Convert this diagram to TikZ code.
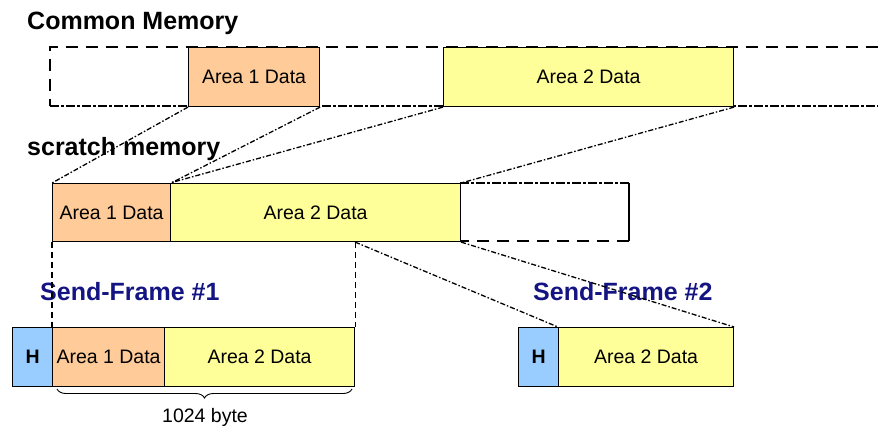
\documentclass[tikz,border=0pt]{standalone}
\usepackage{fontspec}
\setmainfont{Liberation Sans}
\usetikzlibrary{decorations.pathreplacing}
\definecolor{orangefill}{RGB}{255,204,153}
\definecolor{yellowfill}{RGB}{255,255,153}
\definecolor{bluefill}{RGB}{153,204,255}
\definecolor{navytext}{RGB}{20,20,130}
\begin{document}
\begin{tikzpicture}[x=1pt,y=-1pt,
  box/.style={draw=black, line width=1.1pt, inner sep=0pt, anchor=north west,
    font=\fontsize{19.5}{22}\selectfont},
  title/.style={anchor=base west, inner sep=0pt, font=\fontsize{25}{30}\selectfont\bfseries},
  frametitle/.style={title, text=navytext},
  longdash/.style={line width=1.2pt, dash pattern=on 12pt off 8pt},
  dashdotline/.style={line width=1.8pt, dash pattern=on 9pt off 2pt on 3pt off 2pt},
  linkline/.style={line width=1.3pt, dash pattern=on 5pt off 2pt on 1.5pt off 2pt},
  vdash/.style={line width=1.1pt, dash pattern=on 6pt off 4pt}]
\useasboundingbox (0,0) rectangle (880,429);

% titles
\node[title] (tcm) at (27,29) {Common Memory};
\node[title] (tsm) at (27,155) {scratch memory};
\node[frametitle] (tf1) at (40,300) {Send-Frame \#1};
\node[frametitle] (tf2) at (533,300) {Send-Frame \#2};

% common memory frame
\coordinate (cmtl) at (50,47);
\coordinate (cmbl) at (50,106);
\coordinate (cmtr) at (878,47);
\coordinate (cmbr) at (878,106);
\draw[longdash] (cmtr) -- (cmtl) -- (cmbl);
\draw[dashdotline] (cmbl) -- (cmbr);

% scratch memory free part
\coordinate (smtl) at (460,183);
\coordinate (smtr) at (629,183);
\coordinate (smbr) at (629,241);
\coordinate (smbl) at (460,241);
\draw[dashdotline] (smtl) -- (smtr);
\draw[line width=1.2pt] (smtr) -- (smbr);
\draw[longdash] (smbr) -- (smbl);

% common memory boxes
\node[box, fill=orangefill, minimum width=131pt, minimum height=59pt] (cmA1) at (188,47) {Area 1 Data};
\node[box, fill=yellowfill, minimum width=290pt, minimum height=59pt] (cmA2) at (443,47) {Area 2 Data};

% scratch boxes
\node[box, fill=orangefill, minimum width=118pt, minimum height=58pt] (scA1) at (52,183) {Area 1 Data};
\node[box, fill=yellowfill, minimum width=290pt, minimum height=58pt] (scA2) at (170,183) {Area 2 Data};

% send frame 1
\node[box, fill=bluefill, minimum width=40pt, minimum height=59pt, font=\fontsize{19.5}{22}\selectfont\bfseries] (f1H) at (12,327) {H};
\node[box, fill=orangefill, minimum width=112pt, minimum height=59pt] (f1A1) at (52,327) {Area 1 Data};
\node[box, fill=yellowfill, minimum width=190pt, minimum height=59pt] (f1A2) at (164,327) {Area 2 Data};

% send frame 2
\node[box, fill=bluefill, minimum width=40pt, minimum height=59pt, font=\fontsize{19.5}{22}\selectfont\bfseries] (f2H) at (518,327) {H};
\node[box, fill=yellowfill, minimum width=175pt, minimum height=59pt] (f2A2) at (558,327) {Area 2 Data};

% connectors common -> scratch
\draw[linkline] (cmA1.south west) -- (scA1.north west);
\draw[linkline] (cmA1.south east) -- (scA1.north east);
\draw[linkline] (cmA2.south west) -- (scA2.north west);
\draw[linkline] (cmA2.south east) -- (scA2.north east);

% connectors scratch -> frames
\coordinate (cut) at (f1A2.north east |- scA2.south);
\draw[vdash] (scA1.south west) -- (f1A1.north west);
\draw[vdash] (cut) -- (f1A2.north east);
\draw[linkline] (cut) -- (f2A2.north west);
\draw[linkline] (scA2.south east) -- (f2A2.north east);

% brace
\coordinate (brl) at (57,389);
\coordinate (brr) at (352,389);
\draw[line width=0.9pt, decorate, decoration={brace, mirror, amplitude=9pt}] (brl) -- (brr);
\node[anchor=base, inner sep=0pt, font=\fontsize{19.5}{22}\selectfont] (bytes) at (205,422) {1024 byte};
\end{tikzpicture}
\end{document}
